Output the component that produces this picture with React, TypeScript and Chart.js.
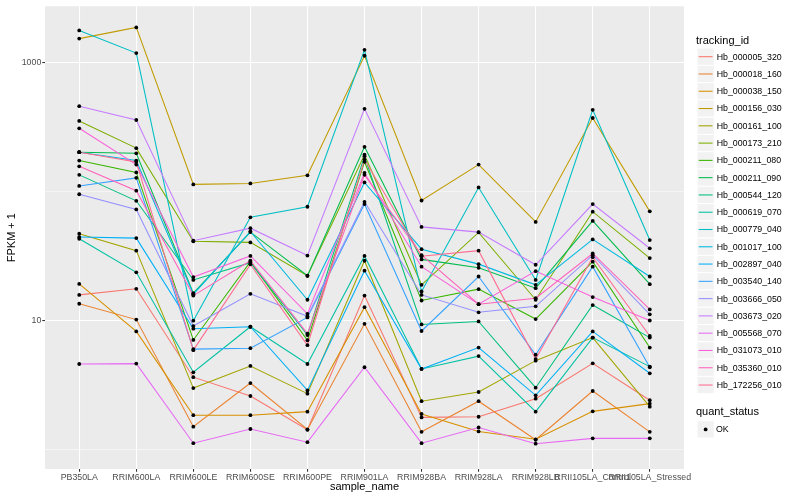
import React, { useEffect, useRef } from "react";
import { Chart, registerables } from "chart.js";

Chart.register(...registerables);

const sampleNames = [
  "PB350LA", "RRIM600LA", "RRIM600LE", "RRIM600SE", "RRIM600PE", "RRIM901LA",
  "RRIM928BA", "RRIM928LA", "RRIM928LB", "RRII105LA_Control", "RRII105LA_Stressed",
];

const trackingIds = [
  "Hb_000005_320", "Hb_000018_160", "Hb_000038_150", "Hb_000156_030", "Hb_000161_100",
  "Hb_000173_210", "Hb_000211_080", "Hb_000211_090", "Hb_000544_120", "Hb_000619_070",
  "Hb_000779_040", "Hb_001017_100", "Hb_002897_040", "Hb_003540_140", "Hb_003666_050",
  "Hb_003673_020", "Hb_005568_070", "Hb_031073_010", "Hb_035360_010", "Hb_172256_010",
];

const seriesColors = [
  "#F8766D", "#EA8331", "#D89000", "#C09B00", "#A3A500", "#7CAE00", "#39B600",
  "#00BB4E", "#00BF7D", "#00C1A3", "#00BFC4", "#00BAE0", "#00B0F6", "#35A2FF",
  "#9590FF", "#C77CFF", "#E76BF3", "#FA62DB", "#FF62BC", "#FF6C91",
];

// FPKM + 1 per sample, one array per tracking_id
const hb000005_320 = [15.7, 17.5, 3.61, 2.58, 1.41, 15.5, 1.76, 1.78, 2.46, 4.62, 2.39];
const hb000018_160 = [13.4, 10.1, 1.49, 3.25, 1.42, 9.37, 1.36, 2.35, 1.18, 2.82, 1.36];
const hb000038_150 = [19.1, 8.18, 1.83, 1.83, 1.95, 12.6, 1.87, 1.37, 1.19, 1.96, 2.25];
const hb000156_030 = [1528, 1866, 113, 115, 133, 1125, 84.8, 161, 57.8, 370, 69.8];
const hb000161_100 = [46.8, 34.6, 2.97, 4.41, 2.69, 28.9, 2.35, 2.77, 4.85, 7.32, 2.13];
const hb000173_210 = [351, 216, 40.9, 40.1, 22.1, 192, 18.8, 47.9, 14.4, 69.4, 30.3];
const hb000211_080 = [173, 140, 7.02, 28.4, 6.98, 169, 14.2, 17.4, 10.2, 28.4, 6.13];
const hb000211_090 = [201, 197, 16.2, 48.2, 22.1, 221, 29.6, 25.5, 17.7, 58.9, 19.0];
const hb000544_120 = [134, 84.3, 20.5, 27.9, 7.67, 187, 9.26, 9.77, 2.99, 13.1, 7.32];
const hb000619_070 = [42.8, 23.5, 3.94, 8.89, 4.57, 31.5, 4.18, 5.26, 1.95, 7.32, 4.36];
const hb000779_040 = [1770, 1180, 9.9, 62.8, 75.8, 1250, 16.7, 107, 20.5, 428, 41.8];
const hb001017_100 = [201, 173, 15.9, 48.7, 14.4, 117, 35.5, 27.2, 18.8, 42.3, 21.8];
const hb002897_040 = [44.1, 43.3, 8.58, 8.89, 2.85, 24.2, 4.18, 6.13, 2.61, 8.18, 3.87];
const hb003540_140 = [110, 127, 5.96, 6.06, 10.5, 79.5, 8.24, 21.8, 5.39, 26.0, 4.31];
const hb003666_050 = [94.8, 72.3, 9.0, 16.0, 10.7, 82.8, 15.7, 11.5, 12.8, 31.9, 11.1];
const hb003673_020 = [457, 357, 41.3, 51.7, 31.7, 436, 52.9, 48.2, 26.9, 79.5, 36.1];
const hb005568_070 = [4.57, 4.6, 1.11, 1.43, 1.13, 4.31, 1.11, 1.47, 1.1, 1.21, 1.21];
const hb031073_010 = [308, 161, 21.6, 31.5, 11.2, 139, 26.0, 13.3, 24.0, 15.1, 9.94];
const hb035360_010 = [156, 101, 15.5, 28.9, 7.85, 134, 31.9, 13.3, 14.8, 32.9, 12.1];
const hb172256_010 = [201, 169, 5.85, 27.1, 6.39, 176, 31.3, 34.6, 4.99, 30.8, 7.54];

const seriesValues = [
  hb000005_320, hb000018_160, hb000038_150, hb000156_030, hb000161_100,
  hb000173_210, hb000211_080, hb000211_090, hb000544_120, hb000619_070,
  hb000779_040, hb001017_100, hb002897_040, hb003540_140, hb003666_050,
  hb003673_020, hb005568_070, hb031073_010, hb035360_010, hb172256_010,
];

const yGridValues = [1, 10, 100, 1000];
const yLabelValues = [10, 1000];
const quantStatus = ["OK"];

const FONT = "'Liberation Sans', Arial, Helvetica, sans-serif";

const panelPlugin = {
  id: "panelBg",
  beforeDraw(chart: any) {
    const { ctx, chartArea: a } = chart;
    ctx.save();
    ctx.fillStyle = "#EBEBEB";
    ctx.fillRect(a.left, a.top, a.right - a.left, a.bottom - a.top);
    ctx.restore();
  },
};

const legendPlugin = {
  id: "ggLegend",
  afterDraw(chart: any) {
    const ctx = chart.ctx;
    ctx.save();
    ctx.textBaseline = "middle";
    ctx.textAlign = "left";
    ctx.fillStyle = "#000000";
    ctx.font = `11px ${FONT}`;
    ctx.fillText("tracking_id", 696, 41);
    const keyX = 697;
    const keySize = 17.28;
    const firstY = 56.7;
    for (let i = 0; i < trackingIds.length; i++) {
      const cy = firstY + i * keySize;
      ctx.fillStyle = "#F2F2F2";
      ctx.fillRect(keyX, cy - keySize / 2, keySize, keySize);
      ctx.strokeStyle = "#FFFFFF";
      ctx.lineWidth = 1;
      ctx.strokeRect(keyX, cy - keySize / 2, keySize, keySize);
      ctx.strokeStyle = seriesColors[i];
      ctx.lineWidth = 1.07;
      ctx.beginPath();
      ctx.moveTo(keyX + 1.7, cy);
      ctx.lineTo(keyX + keySize - 1.7, cy);
      ctx.stroke();
      ctx.fillStyle = "#000000";
      ctx.font = `8.8px ${FONT}`;
      ctx.fillText(trackingIds[i], 716.7, cy + 0.5);
    }
    ctx.font = `11px ${FONT}`;
    ctx.fillText("quant_status", 696, 412);
    const qy = 429.4;
    ctx.fillStyle = "#F2F2F2";
    ctx.fillRect(keyX, qy - keySize / 2, keySize, keySize);
    ctx.strokeStyle = "#FFFFFF";
    ctx.lineWidth = 1;
    ctx.strokeRect(keyX, qy - keySize / 2, keySize, keySize);
    ctx.fillStyle = "#000000";
    ctx.beginPath();
    ctx.arc(keyX + keySize / 2, qy, 1.9, 0, Math.PI * 2);
    ctx.fill();
    ctx.font = `8.8px ${FONT}`;
    ctx.fillText(quantStatus[0], 716, qy + 0.5);
    ctx.restore();
  },
};

export default function App() {
  const canvasRef = useRef<HTMLCanvasElement | null>(null);

  useEffect(() => {
    if (!canvasRef.current) return;
    Chart.defaults.font.family = FONT;

    const lineSets = seriesValues.map((vals, idx) => ({
      type: "line" as const,
      label: trackingIds[idx],
      data: vals.map((v, i) => ({ x: i, y: v })),
      borderColor: seriesColors[idx],
      backgroundColor: seriesColors[idx],
      borderWidth: 1.07,
      pointRadius: 0,
      pointHoverRadius: 0,
      fill: false,
      tension: 0,
      order: 100 - idx,
    }));

    const pointSet = {
      type: "scatter" as const,
      label: quantStatus[0],
      data: seriesValues.flatMap((vals) => vals.map((v, i) => ({ x: i, y: v }))),
      pointRadius: 1.9,
      pointHoverRadius: 1.9,
      pointBackgroundColor: "#000000",
      pointBorderWidth: 0,
      showLine: false,
      order: 0,
    };

    const chart = new Chart(canvasRef.current, {
      type: "line",
      data: { datasets: [...lineSets, pointSet] as any },
      options: {
        animation: false,
        responsive: true,
        maintainAspectRatio: false,
        layout: { padding: { top: 5, right: 116, left: 0, bottom: 0 } },
        plugins: { legend: { display: false }, tooltip: { enabled: false }, title: { display: false } },
        events: [],
        scales: {
          x: {
            type: "linear",
            min: -0.6,
            max: 10.6,
            afterBuildTicks: (s: any) => {
              s.ticks = sampleNames.map((_, i) => ({ value: i }));
            },
            afterFit: (s: any) => {
              s.height = 31;
            },
            ticks: {
              autoSkip: false,
              maxRotation: 0,
              minRotation: 0,
              color: "#4D4D4D",
              font: { family: FONT, size: 8.8 },
              padding: 1,
              callback: (v: any) => sampleNames[Math.round(Number(v))] ?? "",
            },
            grid: {
              color: "#FFFFFF",
              lineWidth: 1.07,
              tickColor: "#333333",
              tickLength: 2.7,
              drawTicks: true,
            },
            border: { display: false },
            title: {
              display: true,
              text: "sample_name",
              color: "#000000",
              font: { family: FONT, size: 11 },
              padding: { top: 0, bottom: 6.4 },
            },
          },
          y: {
            type: "logarithmic",
            min: 0.748,
            max: 2723,
            afterBuildTicks: (s: any) => {
              s.ticks = yGridValues.map((v) => ({ value: v }));
            },
            afterFit: (s: any) => {
              s.width = 45;
            },
            ticks: {
              color: "#4D4D4D",
              font: { family: FONT, size: 8.8 },
              padding: 1,
              callback: (v: any) => (yLabelValues.includes(Number(v)) ? String(v) : ""),
            },
            grid: {
              color: "#FFFFFF",
              lineWidth: (c: any) => (yLabelValues.includes(c.tick?.value) ? 1.07 : 0.53),
              tickColor: (c: any) => (yLabelValues.includes(c.tick?.value) ? "#333333" : "rgba(0,0,0,0)"),
              tickLength: 2.7,
              drawTicks: true,
            },
            border: { display: false },
            title: {
              display: true,
              text: "FPKM + 1",
              color: "#000000",
              font: { family: FONT, size: 11 },
              padding: { top: 5.5, bottom: 0 },
            },
          },
        },
      } as any,
      plugins: [panelPlugin, legendPlugin],
    });

    return () => chart.destroy();
  }, []);

  return (
    <div style={{ position: "fixed", left: 0, top: 0, width: 800, height: 500, background: "#FFFFFF" }}>
      <canvas ref={canvasRef} />
    </div>
  );
}
